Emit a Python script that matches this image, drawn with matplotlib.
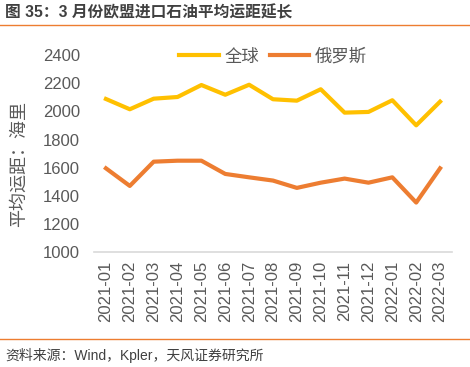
import matplotlib
matplotlib.use("Agg")
import matplotlib.pyplot as plt
from matplotlib.lines import Line2D

plt.rcParams['font.family'] = ['Liberation Sans', 'Noto Sans CJK SC', 'DejaVu Sans']

# 月份
months = ["2021-01", "2021-02", "2021-03", "2021-04", "2021-05", "2021-06", "2021-07",
          "2021-08", "2021-09", "2021-10", "2021-11", "2021-12", "2022-01", "2022-02", "2022-03"]
# 平均运距，海里
world = [2088, 2015, 2090, 2102, 2187, 2118, 2189, 2086, 2076, 2157, 1991, 1996, 2079, 1901, 2069]
russia = [1596, 1471, 1643, 1650, 1650, 1556, 1532, 1509, 1457, 1494, 1523, 1494, 1532, 1353, 1596]
yticks = [1000, 1200, 1400, 1600, 1800, 2000, 2200, 2400]

gray = "#595959"
fig = plt.figure(figsize=(4.7, 3.67), dpi=100)

# заголовок и линии оформления
fig.text(5 / 470, 1 - 13 / 367, "图 35：3 月份欧盟进口石油平均运距延长", fontsize=11.3,
         fontweight="bold", color="#404040", va="center", ha="left")
fig.add_artist(Line2D([0, 1], [1 - 25 / 367] * 2, color="#ED7D31", lw=1))
fig.add_artist(Line2D([0, 1], [1 - 339 / 367] * 2, color="#ED7D31", lw=1))
fig.text(5 / 470, 1 - 355 / 367, "资料来源：Wind，Kpler，天风证券研究所", fontsize=10,
         color="#404040", va="center", ha="left")

ax = fig.add_axes([94 / 470, 1 - 252.3 / 367, 358 / 470, 197.3 / 367])
x = range(len(months))
ax.plot(x, world, color="#FFC000", lw=3, label="全球")
ax.plot(x, russia, color="#ED7D31", lw=3, label="俄罗斯")

ax.set_xlim(-0.5, len(months) - 0.5)
ax.set_ylim(1000, 2400)
ax.set_yticks(yticks)
ax.set_yticklabels([str(v) for v in yticks], fontsize=12, color=gray)
ax.set_xticks(list(x))
ax.set_xticklabels(months, rotation=90, fontsize=12, color=gray)
ax.tick_params(length=0, pad=10)
ax.tick_params(axis="x", pad=6)

for s in ["top", "right", "left"]:
    ax.spines[s].set_visible(False)
ax.spines["bottom"].set_color("#D9D9D9")
ax.spines["bottom"].set_linewidth(1.2)

ax.set_ylabel("平均运距：海里", fontsize=13, color=gray)
ax.yaxis.set_label_coords(-0.184, 0.45)

ax.legend(loc="upper center", bbox_to_anchor=(0.5, 1.115), ncol=2, frameon=False,
          fontsize=12.5, labelcolor=gray, handlelength=2.3, columnspacing=0.6,
          handletextpad=0.3)

fig.savefig("out.png", dpi=100)
